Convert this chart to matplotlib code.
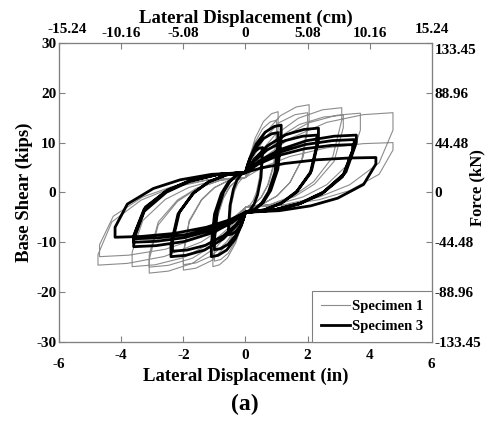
import numpy as np
import matplotlib.pyplot as plt
from matplotlib.lines import Line2D
from matplotlib.transforms import ScaledTranslation

# Specimen 1 (gray): one row per cycle, displacement (in) and base shear (kips)
spec1_x = [
    [0, .06, .15, .275, .4, .5, .5, .453, .354, .25, .13, 0, -.06, -.15, -.275, -.4, -.5, -.5, -.453, -.354, -.25, -.13, 0],
    [0, .126, .315, .578, .84, 1.05, 1.05, .951, .742, .525, .272, 0, -.126, -.315, -.578, -.84, -1.05, -1.05, -.951, -.742, -.525, -.272, 0],
    [0, .12, .3, .55, .8, 1.0, 1.0, .906, .707, .5, .259, 0, -.12, -.3, -.55, -.8, -1.0, -1.0, -.906, -.707, -.5, -.259, 0],
    [0, .246, .615, 1.128, 1.64, 2.05, 2.05, 1.857, 1.449, 1.025, .531, 0, -.24, -.6, -1.1, -1.6, -2.0, -2.0, -1.812, -1.414, -1.0, -.518, 0],
    [0, .24, .6, 1.1, 1.6, 2.0, 2.0, 1.812, 1.414, 1.0, .518, 0, -.24, -.6, -1.1, -1.6, -2.0, -2.0, -1.812, -1.414, -1.0, -.518, 0],
    [0, .372, .93, 1.705, 2.48, 3.1, 3.1, 2.809, 2.192, 1.55, .803, 0, -.372, -.93, -1.705, -2.48, -3.1, -3.1, -2.809, -2.192, -1.55, -.803, 0],
    [0, .378, .945, 1.733, 2.52, 3.15, 3.15, 2.854, 2.227, 1.575, .816, 0, -.372, -.93, -1.705, -2.48, -3.1, -3.1, -2.809, -2.192, -1.55, -.803, 0],
    [0, .444, 1.11, 2.035, 2.96, 3.7, 3.7, 3.352, 2.616, 1.85, .958, 0, -.438, -1.095, -2.008, -2.92, -3.65, -3.65, -3.307, -2.581, -1.825, -.945, 0],
    [0, .57, 1.425, 2.613, 3.8, 4.75, 4.75, 4.304, 3.358, 2.375, 1.23, 0, -.57, -1.425, -2.613, -3.8, -4.75, -4.75, -4.304, -3.358, -2.375, -1.23, 0],
    [0, .57, 1.425, 2.613, 3.8, 4.75, 4.75, 4.304, 3.358, 2.375, 1.23, 0, -.564, -1.41, -2.585, -3.76, -4.7, -4.7, -4.258, -3.323, -2.35, -1.217, 0],
]
spec1_y = [
    [3, 4.8, 6.6, 8.1, 8.82, 9, 7.5, 3.06, 0.08, -1.59, -2.64, -3, -4.5, -6, -7.25, -7.85, -8, -6.5, -2.48, 0.22, 1.73, 2.68, 3],
    [3, 6.96, 10.92, 14.22, 15.8, 16.2, 13, 6.23, 1.69, -0.86, -2.46, -3, -6.57, -10.14, -13.12, -14.54, -14.9, -12, -5.65, -1.4, 0.99, 2.49, 3],
    [3, 6.45, 9.9, 12.78, 14.16, 14.5, 12, 5.65, 1.4, -0.99, -2.49, -3, -6.24, -9.48, -12.18, -13.48, -13.8, -11, -5.08, -1.1, 1.12, 2.52, 3],
    [3, 7.38, 11.76, 15.41, 17.16, 17.6, 14.5, 7.1, 2.13, -0.66, -2.4, -3, -6.78, -10.56, -13.71, -15.22, -15.6, -12.5, -5.94, -1.54, 0.92, 2.47, 3],
    [3, 6.9, 10.8, 14.05, 15.61, 16, 13.5, 6.52, 1.83, -0.79, -2.44, -3, -6.45, -9.9, -12.78, -14.16, -14.5, -12, -5.65, -1.4, 0.99, 2.49, 3],
    [3, 7.2, 11.4, 14.9, 16.58, 17, 14.5, 7.1, 2.13, -0.66, -2.4, -3, -6.96, -10.92, -14.22, -15.8, -16.2, -13.5, -6.52, -1.83, 0.79, 2.44, 3],
    [3, 6.75, 10.5, 13.63, 15.13, 15.5, 13, 6.23, 1.69, -0.86, -2.46, -3, -6.6, -10.2, -13.2, -14.64, -15, -12.5, -5.94, -1.54, 0.92, 2.47, 3],
    [3, 6.87, 10.74, 13.97, 15.51, 15.9, 12.5, 5.94, 1.54, -0.92, -2.47, -3, -6.57, -10.14, -13.12, -14.54, -14.9, -12, -5.65, -1.4, 0.99, 2.49, 3],
    [3, 6.9, 10.8, 14.05, 15.61, 16, 12.5, 5.94, 1.54, -0.92, -2.47, -3, -6.48, -9.96, -12.86, -14.25, -14.6, -12.5, -5.94, -1.54, 0.92, 2.47, 3],
    [3, 5.1, 7.2, 8.95, 9.79, 10, 8.5, 3.64, 0.37, -1.46, -2.61, -3, -5.97, -8.94, -11.42, -12.6, -12.9, -10.5, -4.79, -0.96, 1.19, 2.54, 3],
]

# Specimen 3 (black)
spec3_x = [
    [0, .066, .165, .303, .44, .55, .55, .498, .389, .275, .142, 0, -.066, -.165, -.303, -.44, -.55, -.55, -.498, -.389, -.275, -.142, 0],
    [0, .138, .345, .633, .92, 1.15, 1.15, 1.042, .813, .575, .298, 0, -.132, -.33, -.605, -.88, -1.1, -1.1, -.997, -.778, -.55, -.285, 0],
    [0, .126, .315, .578, .84, 1.05, 1.05, .951, .742, .525, .272, 0, -.12, -.3, -.55, -.8, -1.0, -1.0, -.906, -.707, -.5, -.259, 0],
    [0, .282, .705, 1.293, 1.88, 2.35, 2.35, 2.129, 1.661, 1.175, .609, 0, -.288, -.72, -1.32, -1.92, -2.4, -2.4, -2.174, -1.697, -1.2, -.622, 0],
    [0, .276, .69, 1.265, 1.84, 2.3, 2.3, 2.084, 1.626, 1.15, .596, 0, -.282, -.705, -1.293, -1.88, -2.35, -2.35, -2.129, -1.661, -1.175, -.609, 0],
    [0, .428, 1.071, 1.964, 2.856, 3.57, 3.57, 3.234, 2.524, 1.785, .925, 0, -.432, -1.08, -1.98, -2.88, -3.6, -3.6, -3.262, -2.545, -1.8, -.932, 0],
    [0, .42, 1.05, 1.925, 2.8, 3.5, 3.5, 3.171, 2.475, 1.75, .907, 0, -.432, -1.08, -1.98, -2.88, -3.6, -3.6, -3.262, -2.545, -1.8, -.932, 0],
    [0, .414, 1.035, 1.898, 2.76, 3.45, 3.45, 3.126, 2.439, 1.725, .894, 0, -.426, -1.065, -1.953, -2.84, -3.55, -3.55, -3.216, -2.51, -1.775, -.919, 0],
    [0, .504, 1.26, 2.31, 3.36, 4.2, 4.2, 3.805, 2.969, 2.1, 1.088, 0, -.504, -1.26, -2.31, -3.36, -4.2, -4.2, -3.805, -2.969, -2.1, -1.088, 0],
]
spec3_y = [
    [4, 5.5, 7.0, 8.25, 8.85, 9.0, 8.0, 2.92, -0.48, -2.39, -3.59, -4, -5.35, -6.7, -7.83, -8.37, -8.5, -7.5, -2.64, 0.63, 2.46, 3.61, 4],
    [4, 6.85, 9.7, 12.08, 13.22, 13.5, 11, 4.65, 0.4, -1.99, -3.49, -4, -6.67, -9.34, -11.57, -12.63, -12.9, -10.5, -4.37, -0.25, 2.06, 3.51, 4],
    [4, 6.4, 8.8, 10.8, 11.76, 12, 10, 4.08, 0.1, -2.12, -3.52, -4, -6.25, -8.5, -10.38, -11.28, -11.5, -9.5, -3.79, 0.04, 2.19, 3.54, 4],
    [4, 6.67, 9.34, 11.57, 12.63, 12.9, 10.5, 4.37, 0.25, -2.06, -3.51, -4, -6.67, -9.34, -11.57, -12.63, -12.9, -10.5, -4.37, -0.25, 2.06, 3.51, 4],
    [4, 6.25, 8.5, 10.38, 11.28, 11.5, 9.5, 3.79, -0.04, -2.19, -3.54, -4, -6.34, -8.68, -10.63, -11.57, -11.8, -9.8, -3.96, -0.04, 2.15, 3.53, 4],
    [4, 6.25, 8.5, 10.38, 11.28, 11.5, 10, 4.08, 0.1, -2.12, -3.52, -4, -6.07, -8.14, -9.87, -10.69, -10.9, -9.5, -3.79, 0.04, 2.19, 3.54, 4],
    [4, 5.98, 7.96, 9.61, 10.4, 10.6, 9.2, 3.62, -0.13, -2.23, -3.55, -4, -5.8, -7.6, -9.1, -9.82, -10, -8.7, -3.33, 0.28, 2.3, 3.57, 4],
    [4, 5.68, 7.36, 8.76, 9.43, 9.6, 8.4, 3.15, -0.37, -2.34, -3.58, -4, -5.59, -7.18, -8.51, -9.14, -9.3, -8.0, -2.92, 0.48, 2.39, 3.59, 4],
    [4, 4.9, 5.8, 6.55, 6.91, 7.0, 5.7, 1.6, -1.16, -2.7, -3.67, -4, -5.5, -7.0, -8.25, -8.85, -9.0, -7.0, -2.35, 0.78, 2.53, 3.63, 4],
]

in_ticks = [-6, -4, -2, 0, 2, 4, 6]
in_labels = ['-6', '-4', '-2', '0', '2', '4', '6']
kips_ticks = [-30, -20, -10, 0, 10, 20, 30]
kips_labels = ['-30', '-20', '-10', '0', '10', '20', '30']
cm_ticks = [-15.24, -10.16, -5.08, 0, 5.08, 10.16, 15.24]
cm_labels = ['-15.24', '-10.16', '-5.08', '0', '5.08', '10.16', '15.24']
kn_ticks = [-133.45, -88.96, -44.48, 0, 44.48, 88.96, 133.45]
kn_labels = ['-133.45', '-88.96', '-44.48', '0', '44.48', '88.96', '133.45']

plt.rcParams['font.family'] = 'Liberation Serif'
plt.rcParams['font.weight'] = 'bold'
plt.rcParams['axes.unicode_minus'] = False

gray = '#808080'
fig = plt.figure(figsize=(4.89, 4.21), dpi=100)
ax = fig.add_axes([0.121, 0.188, 0.762, 0.710])

ax.plot(np.concatenate(spec1_x), np.concatenate(spec1_y), color='#8c8c8c', lw=0.8,
        solid_joinstyle='round')
ax.plot(np.concatenate(spec3_x), np.concatenate(spec3_y), color='black', lw=2.0,
        solid_joinstyle='round')

ax.set_xlim(-6, 6)
ax.set_ylim(-30, 30)
ax.set_xticks(in_ticks, labels=in_labels)
ax.set_yticks(kips_ticks, labels=kips_labels)
ax.tick_params(axis='x', direction='in', length=4, labelsize=11, color=gray, pad=5)
ax.tick_params(axis='y', direction='in', length=4, labelsize=11, color=gray, pad=2)
for s in ax.spines.values():
    s.set_color(gray)

# second scales: cm on top, kN on the right
ax_top = ax.twiny()
ax_top.set_xlim(-15.24, 15.24)
ax_top.set_xticks(cm_ticks, labels=cm_labels)
ax_top.tick_params(direction='in', length=4, labelsize=11, color=gray, pad=2)
ax_top.set_xlabel('Lateral Displacement (cm)', fontsize=13.5, fontweight='bold', labelpad=0)

ax_right = ax_top.twinx()
ax_right.set_ylim(-133.45, 133.45)
ax_right.set_yticks(kn_ticks, labels=kn_labels)
ax_right.tick_params(direction='in', length=4, labelsize=11, color=gray, pad=2)
for a in (ax_top, ax_right):
    for s in a.spines.values():
        s.set_color(gray)

# corner labels nudged like the original
def nudge(tick_label, dx, dy):
    tick_label.set_transform(tick_label.get_transform() + ScaledTranslation(dx / 100, dy / 100, fig.dpi_scale_trans))

xt = ax.xaxis.get_major_ticks()
nudge(xt[0].label1, 0, -9)
nudge(xt[-1].label1, 0, -9)
tt = ax_top.xaxis.get_major_ticks()
nudge(tt[0].label2, 8, 4)
nudge(tt[-1].label2, 0, 4)
rt = ax_right.yaxis.get_major_ticks()
nudge(rt[-1].label2, 0, -6)

ax.set_xlabel('Lateral Displacement (in)', fontsize=13.5, fontweight='bold', labelpad=-2)
ax.set_ylabel('Base Shear (kips)', fontsize=13.5, fontweight='bold', labelpad=2)
fig.text(0.977, 0.555, 'Force (kN)', rotation=90, ha='center', va='center',
         fontsize=12, fontweight='bold')
fig.text(0.5, 0.04, '(a)', ha='center', va='center', fontsize=17, fontweight='bold')

handles = [Line2D([], [], color='#8c8c8c', lw=0.8), Line2D([], [], color='black', lw=2.0)]
leg = ax_right.legend(handles, ['Specimen 1', 'Specimen 3'], loc='lower right', fontsize=10.5,
                      frameon=True, fancybox=False, borderaxespad=0, handlelength=2.0,
                      handletextpad=0.1, borderpad=0.6, labelspacing=0.45, framealpha=1)
leg.get_frame().set_edgecolor(gray)
leg.get_frame().set_linewidth(0.8)

fig.savefig('out.png', dpi=100)
